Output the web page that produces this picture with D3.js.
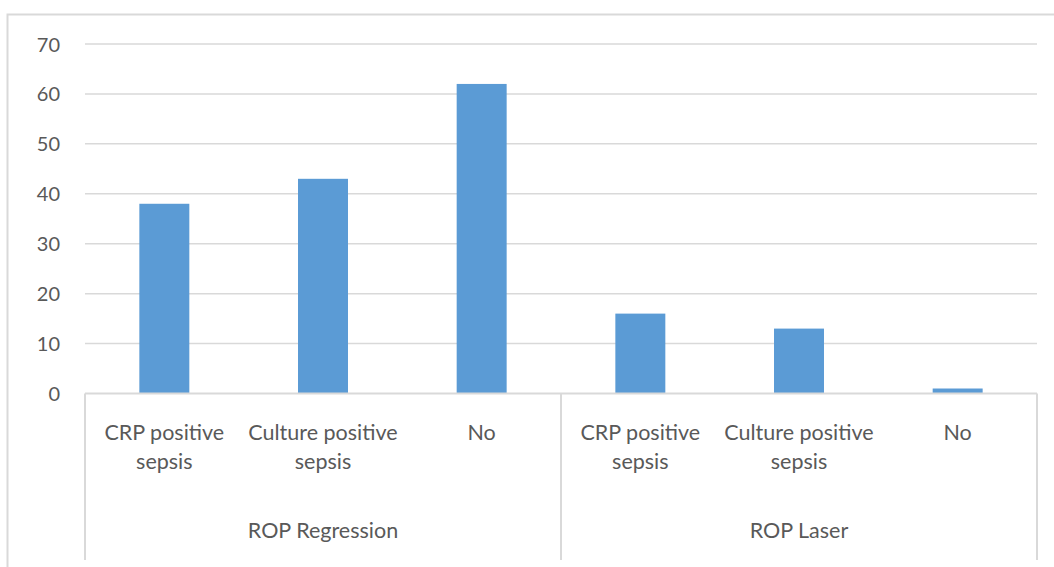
<!DOCTYPE html>
<html>
<head>
<meta charset="utf-8">
<script src="https://cdn.jsdelivr.net/npm/d3@7"></script>
<style>
  html, body { margin: 0; padding: 0; background: #fff; }
  svg { display: block; font-family: Lato, "Open Sans", sans-serif; }
</style>
</head>
<body>
<svg id="chart" width="1054" height="567"></svg>
<script>
// Bar heights per sub-category, grouped by ROP outcome
const groups = ["ROP Regression", "ROP Laser"];
const subCategories = ["CRP positive sepsis", "Culture positive sepsis", "No"];
const regressionValues = [38, 43, 62];
const laserValues = [16, 13, 1];
const yTicks = [0, 10, 20, 30, 40, 50, 60, 70];

const rows = [];
[regressionValues, laserValues].forEach((vals, gi) => {
  vals.forEach((v, si) => rows.push({ group: groups[gi], sub: subCategories[si], value: v, key: gi + "-" + si }));
});

const svg = d3.select("#chart");
const plot = { left: 85, right: 1037, top: 44, bottom: 393.5 };
const gridColor = "#d9d9d9";
const textColor = "#595959";

// Outer chart frame
svg.append("rect")
  .attr("x", 7.5).attr("y", 14.5)
  .attr("width", 1060).attr("height", 570)
  .attr("fill", "none").attr("stroke", gridColor).attr("stroke-width", 2);

const x = d3.scaleBand().domain(rows.map(d => d.key)).range([plot.left, plot.right]).paddingInner(0).paddingOuter(0);
const y = d3.scaleLinear().domain([0, 70]).range([plot.bottom, plot.top]);

// Horizontal gridlines
svg.append("g").selectAll("line").data(yTicks.filter(t => t > 0)).join("line")
  .attr("x1", plot.left).attr("x2", plot.right)
  .attr("y1", d => y(d)).attr("y2", d => y(d))
  .attr("stroke", gridColor).attr("stroke-width", 1.5);

// Y axis labels
const yAxis = d3.axisLeft(y).tickValues(yTicks).tickSize(0).tickPadding(0);
const yg = svg.append("g").attr("transform", `translate(${plot.left - 25},0)`).call(yAxis);
yg.select(".domain").remove();
yg.selectAll("text").attr("fill", textColor).style("font-size", "20px").style("font-family", "Lato, 'Open Sans', sans-serif").attr("dy", "0.35em");

// Bars
const barW = x.bandwidth() * 0.315;
svg.append("g").selectAll("rect").data(rows).join("rect")
  .attr("x", d => x(d.key) + (x.bandwidth() - barW) / 2)
  .attr("width", barW)
  .attr("y", d => y(d.value))
  .attr("height", d => y(0) - y(d.value))
  .attr("fill", "#5b9bd5");

// Category axis baseline and group separators
svg.append("line")
  .attr("x1", plot.left).attr("x2", plot.right)
  .attr("y1", y(0)).attr("y2", y(0))
  .attr("stroke", gridColor).attr("stroke-width", 2);

const groupEdges = [plot.left, x("1-0"), plot.right];
svg.append("g").selectAll("line").data(groupEdges).join("line")
  .attr("x1", d => d).attr("x2", d => d)
  .attr("y1", y(0)).attr("y2", 560)
  .attr("stroke", gridColor).attr("stroke-width", 2);

// Sub-category labels, wrapped onto two lines
const wrapLines = {
  "CRP positive sepsis": ["CRP positive", "sepsis"],
  "Culture positive sepsis": ["Culture positive", "sepsis"],
  "No": ["No"]
};
const subText = svg.append("g").selectAll("text").data(rows).join("text")
  .attr("x", d => x(d.key) + x.bandwidth() / 2)
  .attr("y", 440)
  .attr("text-anchor", "middle")
  .attr("fill", textColor)
  .style("font-size", "21.5px");
subText.selectAll("tspan").data(d => wrapLines[d.sub].map(l => ({ l, cx: x(d.key) + x.bandwidth() / 2 }))).join("tspan")
  .attr("x", d => d.cx)
  .attr("dy", (d, i) => i === 0 ? 0 : 29)
  .text(d => d.l);

// Group labels
svg.append("g").selectAll("text").data(groups).join("text")
  .attr("x", (d, i) => (groupEdges[i] + groupEdges[i + 1]) / 2)
  .attr("y", 538)
  .attr("text-anchor", "middle")
  .attr("fill", textColor)
  .style("font-size", "21.5px")
  .text(d => d);
</script>
</body>
</html>
